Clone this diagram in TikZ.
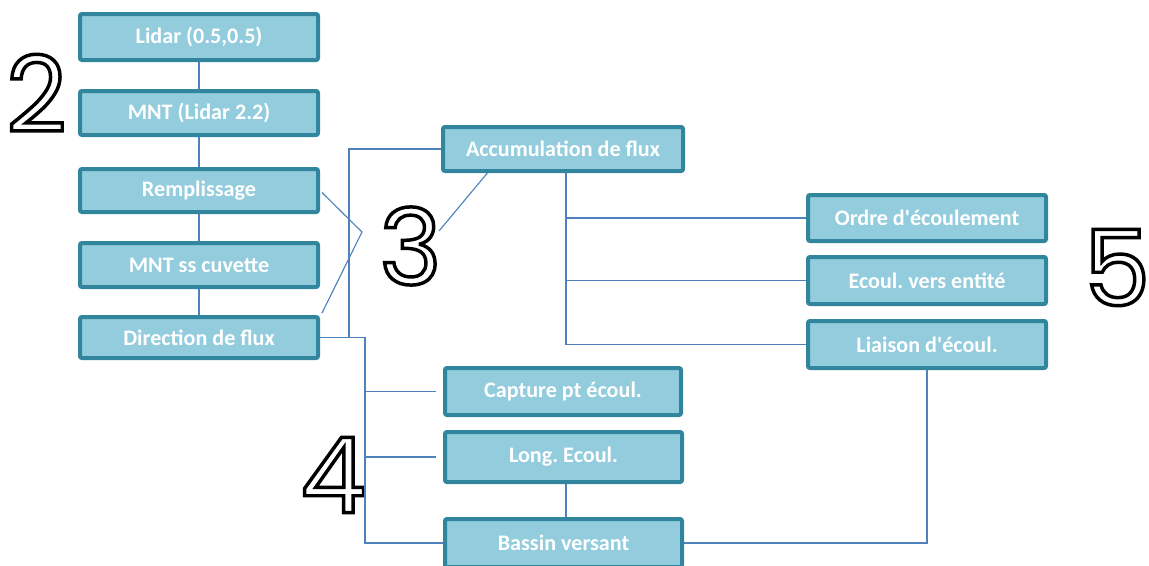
\documentclass[tikz,border=0pt]{standalone}
\usepackage{fontspec}
\setmainfont{Carlito}[Ligatures=TeXOff]
\newfontfamily\numfont{Poppins}
\usetikzlibrary{calc}
\frenchspacing
\definecolor{boxfill}{HTML}{93CDDD}
\definecolor{boxedge}{HTML}{31859C}
\definecolor{linkc}{HTML}{4F81BD}
\tikzset{
  stepbox/.style={draw=boxedge, fill=boxfill, line width=3pt, rounded corners=1.5pt,
    text=white, font=\fontsize{16.6}{19}\selectfont\bfseries\frenchspacing, inner sep=0pt},
  link/.style={draw=linkc, line width=0.85pt},
  bignum/.style={inner sep=0pt, font=\fontsize{79}{90}\selectfont\numfont}
}
\newcommand{\outl}[1]{\special{pdf:literal direct 1 Tr 2.6 w}#1\special{pdf:literal direct 0 Tr}}
\begin{document}
\begin{tikzpicture}[x=0.75pt,y=-0.75pt]
\useasboundingbox (0,0) rectangle (1149,565);
% left column
\node[stepbox, minimum width=178.5pt, minimum height=34.5pt] (lidar) at (199,37) {Lidar (0.5,0.5)};
\node[stepbox, minimum width=178.5pt, minimum height=33pt] (mnt) at (199,113) {MNT (Lidar 2.2)};
\node[stepbox, minimum width=178.5pt, minimum height=32.25pt] (rempl) at (199,190.5) {Remplissage};
\node[stepbox, minimum width=178.5pt, minimum height=33pt] (mntss) at (199,265) {MNT ss cuvette};
\node[stepbox, minimum width=178.5pt, minimum height=30.75pt] (dir) at (199,337.5) {Direction de flux};
% middle
\node[stepbox, minimum width=180pt, minimum height=33pt] (accum) at (563,149) {Accumulation de flux};
\node[stepbox, minimum width=177pt, minimum height=35.25pt] (capture) at (563,391.5) {Capture pt écoul.};
\node[stepbox, minimum width=177.75pt, minimum height=37.5pt] (long) at (563.5,457) {Long. Ecoul.};
\node[stepbox, minimum width=177.75pt, minimum height=36pt] (bassin) at (563.5,543) {Bassin versant};
% right
\node[stepbox, minimum width=178.5pt, minimum height=34.5pt] (ordre) at (927,218) {Ordre d'écoulement};
\node[stepbox, minimum width=178.5pt, minimum height=35.25pt] (ecoul) at (927,280.5) {Ecoul. vers entité};
\node[stepbox, minimum width=178.5pt, minimum height=35.25pt] (liaison) at (927,344.5) {Liaison d'écoul.};
% big numbers
\node[bignum] (n2) at (36.5,93) {\outl{2}};
\node[bignum] (n3) at (410.5,246) {\outl{3}};
\node[bignum] (n4) at (333.5,475) {\outl{4}};
\node[bignum] (n5) at (1117,267.5) {\outl{5}};
% coordinates
\coordinate (c3) at (362,232);
\coordinate (ja) at (349,337.5);
\coordinate (jb) at (365,337.5);
\coordinate (c3b) at (439,231);
\coordinate (jc) at (566,173);
% connectors
\draw[link] (lidar.south) -- (mnt.north);
\draw[link] (mnt.south) -- (rempl.north);
\draw[link] (rempl.south) -- (mntss.north);
\draw[link] (mntss.south) -- (dir.north);
\draw[link] ($(rempl.east)+(2,2)$) -- (c3) -- ($(dir.north east)+(2,-2)$);
\draw[link] (accum.west) -| (ja) -- (dir.east);
\draw[link] (dir.east) -- (jb) |- (bassin.west);
\draw[link] (jb |- capture.west) -- ($(capture.west)+(-7,0)$);
\draw[link] (jb |- long.west) -- ($(long.west)+(-7,0)$);
\draw[link] ($(accum.south west)!0.19!(accum.south east)$) -- (c3b);
\draw[link] (jc) |- (liaison.west);
\draw[link] (jc |- ordre.west) -- (ordre.west);
\draw[link] (jc |- ecoul.west) -- (ecoul.west);
\draw[link] ($(long.south)+(2.5,0)$) -- ($(bassin.north)+(2.5,0)$);
\draw[link] (bassin.east) -| (liaison.south);
\end{tikzpicture}
\end{document}
